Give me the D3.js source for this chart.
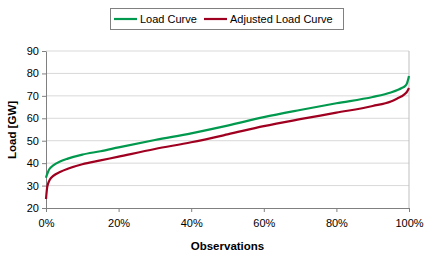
<!DOCTYPE html>
<html>
<head>
<script src="https://d3js.org/d3.v7.min.js"></script>
<style>
  body { margin: 0; background: #fff; }
  text { font-family: "Liberation Sans", Arial, sans-serif; }
</style>
</head>
<body>
<div id="chart"></div>
<script>
var obs = [0, 0.3, 0.6, 1, 2, 4, 6, 10, 15, 20, 30, 40, 50, 60, 70, 80, 90, 95, 97, 98, 99, 99.5, 100];
var loadCurve = [33.5, 35, 36.3, 37.5, 39, 40.8, 42, 43.8, 45.3, 47, 50.3, 53.3, 56.7, 60.5, 63.7, 66.7, 69.5, 71.5, 72.7, 73.5, 74.5, 75.8, 78.8];
var adjustedCurve = [24, 29, 31, 32.5, 34.3, 36.2, 37.5, 39.5, 41.2, 42.9, 46.3, 49.3, 52.8, 56.5, 59.6, 62.5, 65.5, 67.5, 69, 69.8, 71, 72, 73.5];
var seriesNames = ["Load Curve", "Adjusted Load Curve"];
var yTicks = [20, 30, 40, 50, 60, 70, 80, 90];
var xTicks = [0, 20, 40, 60, 80, 100];

var width = 427, height = 268;
var margin = { left: 46, right: 18, top: 51, bottom: 60 };

var svg = d3.select("#chart").append("svg")
    .attr("width", width)
    .attr("height", height);

var x = d3.scaleLinear().domain([0, 100]).range([margin.left, width - margin.right]);
var y = d3.scaleLinear().domain([20, 90]).range([height - margin.bottom, margin.top]);

// grid
svg.append("g").selectAll("line")
    .data(yTicks.slice(1))
    .enter().append("line")
    .attr("x1", x(0)).attr("x2", x(100))
    .attr("y1", function(d) { return y(d); })
    .attr("y2", function(d) { return y(d); })
    .attr("stroke", "#d9d9d9");

svg.append("line")
    .attr("x1", x(100)).attr("x2", x(100))
    .attr("y1", y(90)).attr("y2", y(20))
    .attr("stroke", "#bfbfbf");

// axes
var yAxis = svg.append("g")
    .attr("transform", "translate(" + margin.left + ",0)")
    .call(d3.axisLeft(y).tickValues(yTicks).tickSize(4).tickSizeOuter(0));
var xAxis = svg.append("g")
    .attr("transform", "translate(0," + y(20) + ")")
    .call(d3.axisBottom(x).tickValues(xTicks).tickSize(4).tickSizeOuter(0)
        .tickFormat(function(d) { return d + "%"; }));

[xAxis, yAxis].forEach(function(a) {
    a.select(".domain").attr("stroke", "#808080");
    a.selectAll(".tick line").attr("stroke", "#808080");
    a.selectAll("text").attr("font-size", 11).attr("fill", "#000")
        .style("font-family", "'Liberation Sans', Arial, sans-serif");
});
xAxis.selectAll("text").attr("dy", "1.1em");

// lines
var line = d3.line()
    .x(function(d, i) { return x(obs[i]); })
    .y(function(d) { return y(d); })
    .curve(d3.curveMonotoneX);

var colors = ["#00994d", "#a00020"];
[loadCurve, adjustedCurve].forEach(function(s, i) {
    svg.append("path")
        .datum(s)
        .attr("d", line)
        .attr("fill", "none")
        .attr("stroke", colors[i])
        .attr("stroke-width", 2.2);
});

// axis titles
svg.append("text")
    .attr("x", (x(0) + x(100)) / 2)
    .attr("y", 250)
    .attr("text-anchor", "middle")
    .attr("font-size", 11.5).attr("font-weight", "bold")
    .text("Observations");

svg.append("text")
    .attr("transform", "translate(16,130) rotate(-90)")
    .attr("text-anchor", "middle")
    .attr("font-size", 11.5).attr("font-weight", "bold")
    .text("Load [GW]");

// legend
var lg = svg.append("g");
lg.append("rect")
    .attr("x", 110.5).attr("y", 8.5)
    .attr("width", 233).attr("height", 21)
    .attr("fill", "#fff").attr("stroke", "#808080");
var lx = [114, 204];
seriesNames.forEach(function(n, i) {
    lg.append("line")
        .attr("x1", lx[i]).attr("x2", lx[i] + 23)
        .attr("y1", 19).attr("y2", 19)
        .attr("stroke", colors[i]).attr("stroke-width", 2.2);
    lg.append("text")
        .attr("x", lx[i] + 26).attr("y", 23)
        .attr("font-size", 11)
        .text(n);
});
</script>
</body>
</html>
